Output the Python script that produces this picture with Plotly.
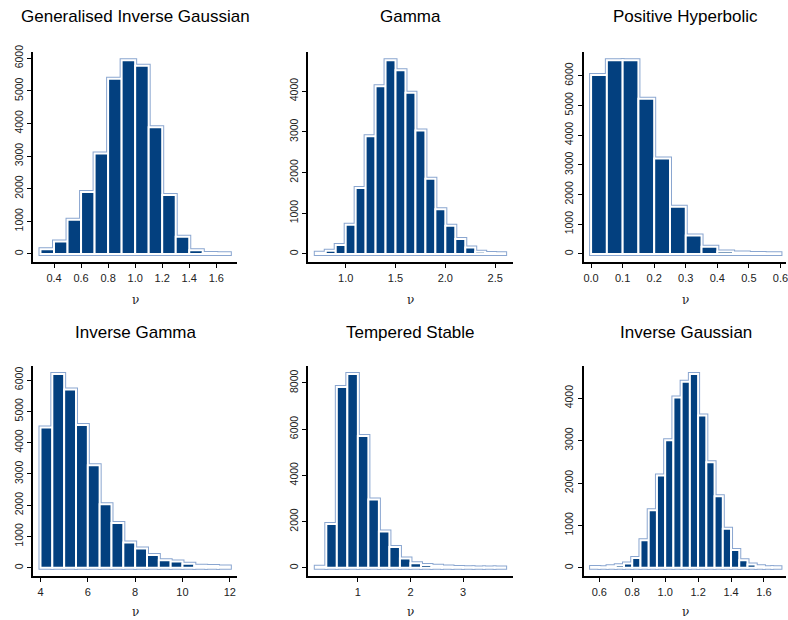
import plotly.graph_objects as go

# ---------------- data ----------------
titles = ["Generalised Inverse Gaussian", "Gamma", "Positive Hyperbolic",
          "Inverse Gamma", "Tempered Stable", "Inverse Gaussian"]
x_label = "ν"

gig_edges = [0.3, 0.4, 0.5, 0.6, 0.7, 0.8, 0.9, 1.0, 1.1, 1.2, 1.3, 1.4, 1.5, 1.6, 1.7]
gig_counts = [140, 380, 1050, 1900, 3080, 5370, 5940, 5770, 3880, 1810, 530, 110, 30, 20]

gamma_edges = [0.7, 0.8, 0.9, 1.0, 1.1, 1.2, 1.3, 1.4, 1.5, 1.6, 1.7, 1.8, 1.9, 2.0,
               2.1, 2.2, 2.3, 2.4, 2.5, 2.6]
gamma_counts = [30, 80, 220, 720, 1620, 2890, 4120, 4760, 4510, 3960, 3030, 1850,
                1100, 690, 365, 160, 55, 25, 15]

ph_edges = [0.0, 0.05, 0.1, 0.15, 0.2, 0.25, 0.3, 0.35, 0.4, 0.45, 0.5, 0.55, 0.6]
ph_counts = [6020, 6520, 6520, 5220, 3210, 1590, 620, 240, 80, 50, 30, 20]

igam_edges = [4.0, 4.5, 5.0, 5.5, 6.0, 6.5, 7.0, 7.5, 8.0, 8.5, 9.0, 9.5, 10.0,
              10.5, 11.0, 11.5, 12.0]
igam_counts = [4480, 6190, 5700, 4560, 3280, 2030, 1430, 810, 620, 410, 240, 200,
               130, 70, 60, 40]

ts_edges = [0.2, 0.4, 0.6, 0.8, 1.0, 1.2, 1.4, 1.6, 1.8, 2.0, 2.2, 2.4, 2.6, 2.8,
            3.0, 3.2, 3.4, 3.6, 3.8]
ts_counts = [50, 1900, 7820, 8380, 5700, 2960, 1570, 900, 400, 200, 120, 90, 60,
             40, 20, 15, 10, 10]

ig_edges = [0.55, 0.6, 0.65, 0.7, 0.75, 0.8, 0.85, 0.9, 0.95, 1.0, 1.05, 1.1, 1.15,
            1.2, 1.25, 1.3, 1.35, 1.4, 1.45, 1.5, 1.55, 1.6, 1.65, 1.7]
ig_counts = [20, 15, 40, 60, 100, 230, 650, 1360, 2180, 3010, 4020, 4390, 4570,
             3590, 2490, 1690, 920, 420, 180, 80, 40, 15, 15]

gig_xticks = [0.4, 0.6, 0.8, 1.0, 1.2, 1.4, 1.6]
gamma_xticks = [1.0, 1.5, 2.0, 2.5]
ph_xticks = [0.0, 0.1, 0.2, 0.3, 0.4, 0.5, 0.6]
igam_xticks = [4, 6, 8, 10, 12]
ts_xticks = [1, 2, 3]
ig_xticks = [0.6, 0.8, 1.0, 1.2, 1.4, 1.6]

gig_xlabels = ["0.4", "0.6", "0.8", "1.0", "1.2", "1.4", "1.6"]
gamma_xlabels = ["1.0", "1.5", "2.0", "2.5"]
ph_xlabels = ["0.0", "0.1", "0.2", "0.3", "0.4", "0.5", "0.6"]
igam_xlabels = ["4", "6", "8", "10", "12"]
ts_xlabels = ["1", "2", "3"]
ig_xlabels = ["0.6", "0.8", "1.0", "1.2", "1.4", "1.6"]

gig_yticks = [0, 1000, 2000, 3000, 4000, 5000, 6000]
gamma_yticks = [0, 1000, 2000, 3000, 4000]
ph_yticks = [0, 1000, 2000, 3000, 4000, 5000, 6000]
igam_yticks = [0, 1000, 2000, 3000, 4000, 5000, 6000]
ts_yticks = [0, 2000, 4000, 6000, 8000]
ig_yticks = [0, 1000, 2000, 3000, 4000]

panels = [
    (gig_edges, gig_counts, gig_xticks, gig_xlabels, gig_yticks),
    (gamma_edges, gamma_counts, gamma_xticks, gamma_xlabels, gamma_yticks),
    (ph_edges, ph_counts, ph_xticks, ph_xlabels, ph_yticks),
    (igam_edges, igam_counts, igam_xticks, igam_xlabels, igam_yticks),
    (ts_edges, ts_counts, ts_xticks, ts_xlabels, ts_yticks),
    (ig_edges, ig_counts, ig_xticks, ig_xlabels, ig_yticks),
]

# ---------------- style / layout ----------------
W, H = 788, 620
NAVY = "#03407F"
OUTLINE = "#8AA6D0"
FONT = "Liberation Sans, Arial, sans-serif"
col_left = [33, 309, 585]
row_top = [45, 363]
plot_w, plot_h = 205, 212
title_y = [9, 329]
xlab_y = [296, 612]

fig = go.Figure()
layout = dict(
    width=W, height=H, margin=dict(l=0, r=0, t=0, b=0),
    paper_bgcolor="white", plot_bgcolor="white",
    barmode="overlay", showlegend=False,
    font=dict(family=FONT, color="#222222"),
)
annotations = []

for i, (edges, counts, xt, xl, yt) in enumerate(panels):
    r, c = divmod(i, 3)
    suf = "" if i == 0 else str(i + 1)
    centers = [(a + b) / 2 for a, b in zip(edges[:-1], edges[1:])]
    widths = [b - a for a, b in zip(edges[:-1], edges[1:])]
    for lc, lw in ((OUTLINE, 4), ("white", 2)):
        fig.add_trace(go.Bar(
            x=centers, y=counts, width=widths,
            marker=dict(color=NAVY, line=dict(color=lc, width=lw)),
            xaxis="x" + suf, yaxis="y" + suf, hoverinfo="skip",
        ))
    # R-style 4% padding
    x0, x1 = edges[0], edges[-1]
    pad = 0.04 * (x1 - x0)
    lo, hi = x0 - pad, x1 + pad
    L = col_left[c]
    R = L + plot_w
    if R > W:
        hi = lo + (W - L) / (R - L) * (hi - lo)
        R = W
    M = max(counts)
    top = row_top[r]
    bot = top + plot_h
    layout["xaxis" + suf] = dict(
        domain=[L / W, R / W], range=[lo, hi], anchor="y" + suf,
        showline=True, linecolor="black", linewidth=2,
        ticks="outside", ticklen=4, tickwidth=1, tickcolor="black",
        tickvals=xt, ticktext=xl, showgrid=False, zeroline=False,
        tickfont=dict(size=11, family=FONT, color="#222222"),
        ticklabelstandoff=1, ticklabeloverflow="allow", fixedrange=True,
    )
    layout["yaxis" + suf] = dict(
        domain=[1 - bot / H, 1 - top / H], range=[-0.04 * M, 1.04 * M],
        anchor="x" + suf,
        showline=True, linecolor="black", linewidth=2,
        ticks="outside", ticklen=4, tickwidth=1, tickcolor="black",
        tickvals=yt, ticktext=[str(v) for v in yt], tickangle=-90,
        showgrid=False, zeroline=False,
        tickfont=dict(size=10.5, family=FONT, color="#222222"),
        ticklabelstandoff=0, ticklabeloverflow="allow", fixedrange=True,
    )
    annotations.append(dict(
        text=titles[i], x=(col_left[c] + plot_w / 2) / W, y=1 - title_y[r] / H,
        xref="paper", yref="paper", xanchor="center", yanchor="middle",
        showarrow=False, font=dict(size=17, family=FONT, color="black"),
    ))
    annotations.append(dict(
        text=x_label, x=(col_left[c] + plot_w / 2) / W, y=1 - xlab_y[r] / H,
        xref="paper", yref="paper", xanchor="center", yanchor="middle",
        showarrow=False, font=dict(size=12, family="DejaVu Serif, serif", color="#222222"),
    ))

layout["annotations"] = annotations
fig.update_layout(**layout)
fig.write_html("out.html")
